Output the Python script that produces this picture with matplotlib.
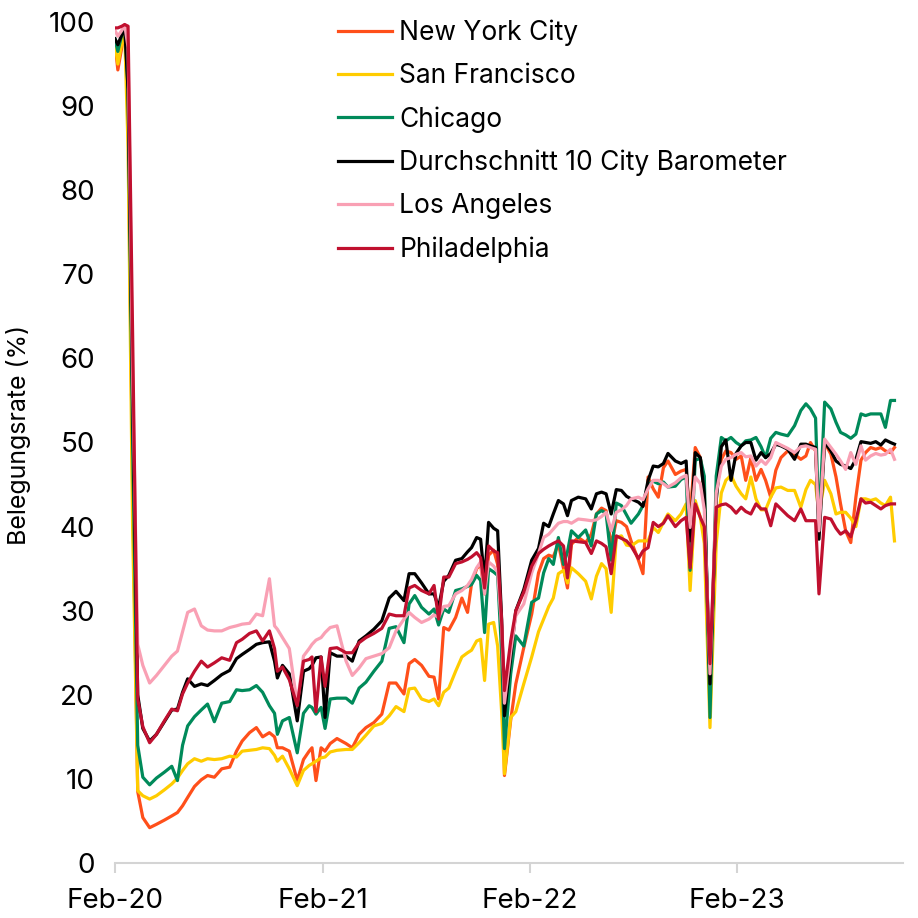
import pandas as pd
import matplotlib.pyplot as plt
import matplotlib.dates as mdates

dates = [
    "2020-02-01", "2020-02-06", "2020-02-13", "2020-02-18", "2020-02-24", "2020-03-03",
    "2020-03-12", "2020-03-21", "2020-04-02", "2020-04-14", "2020-04-28", "2020-05-11",
    "2020-05-21", "2020-05-30", "2020-06-08", "2020-06-20", "2020-07-02", "2020-07-13",
    "2020-07-25", "2020-08-07", "2020-08-21", "2020-09-02", "2020-09-12", "2020-09-25",
    "2020-10-07", "2020-10-18", "2020-10-30", "2020-11-08", "2020-11-13", "2020-11-22",
    "2020-12-04", "2020-12-18", "2020-12-29", "2021-01-08", "2021-01-13", "2021-01-20",
    "2021-01-29", "2021-02-05", "2021-02-14", "2021-02-26", "2021-03-14", "2021-03-25",
    "2021-04-06", "2021-04-18", "2021-05-02", "2021-05-16", "2021-05-29", "2021-06-10",
    "2021-06-24", "2021-07-03", "2021-07-13", "2021-07-25", "2021-08-07", "2021-08-16",
    "2021-08-24", "2021-09-02", "2021-09-11", "2021-09-23", "2021-10-04", "2021-10-14",
    "2021-10-21", "2021-10-30", "2021-11-06", "2021-11-13", "2021-11-20", "2021-11-29",
    "2021-12-06", "2021-12-13", "2021-12-18", "2021-12-29", "2022-01-07", "2022-01-21",
    "2022-02-04", "2022-02-16", "2022-02-25", "2022-03-06", "2022-03-14", "2022-03-23",
    "2022-04-01", "2022-04-08", "2022-04-15", "2022-04-27", "2022-05-10", "2022-05-20",
    "2022-05-29", "2022-06-07", "2022-06-15", "2022-06-24", "2022-07-03", "2022-07-12",
    "2022-07-21", "2022-07-29", "2022-08-11", "2022-08-19", "2022-08-28", "2022-09-06",
    "2022-09-15", "2022-09-24", "2022-10-02", "2022-10-15", "2022-10-25", "2022-11-03",
    "2022-11-10", "2022-11-19", "2022-11-28", "2022-12-05", "2022-12-15", "2022-12-26",
    "2023-01-04", "2023-01-12", "2023-01-21", "2023-01-30", "2023-02-08", "2023-02-16",
    "2023-02-25", "2023-03-06", "2023-03-15", "2023-03-23", "2023-04-01", "2023-04-10",
    "2023-04-19", "2023-05-01", "2023-05-13", "2023-05-24", "2023-06-02", "2023-06-10",
    "2023-06-19", "2023-06-25", "2023-07-05", "2023-07-16", "2023-07-25", "2023-08-02",
    "2023-08-11", "2023-08-20", "2023-08-29", "2023-09-07", "2023-09-15", "2023-09-24",
    "2023-10-03", "2023-10-12", "2023-10-20", "2023-10-29", "2023-11-05",
]

new_york = [
    97.5, 94.3, 97.0, 99.5, 90.0, 45.0, 8.5, 5.4, 4.2, 4.6, 5.1, 5.6,
    6.0, 6.8, 7.8, 9.1, 9.9, 10.4, 10.2, 11.2, 11.4, 13.3, 14.5, 15.5,
    16.1, 15.0, 15.5, 15.0, 13.7, 13.7, 13.3, 9.8, 12.3, 13.3, 13.7, 9.8,
    13.7, 13.3, 14.2, 14.8, 14.2, 13.7, 15.3, 16.1, 16.7, 17.7, 21.4, 21.4,
    20.1, 23.7, 24.2, 23.5, 22.2, 22.1, 19.5, 28.0, 27.7, 29.2, 31.5, 29.8,
    33.2, 35.0, 35.5, 32.0, 36.6, 37.2, 35.5, 28.0, 10.4, 17.0, 21.3, 25.6,
    29.6, 34.5, 36.2, 36.6, 36.4, 38.0, 35.0, 32.7, 37.9, 38.7, 38.1, 39.1,
    41.5, 42.2, 41.9, 37.7, 40.7, 40.5, 40.0, 38.3, 36.0, 34.4, 45.9, 44.5,
    43.5, 47.0, 47.8, 46.2, 46.6, 46.8, 41.0, 49.4, 48.2, 44.0, 19.0, 44.0,
    48.0, 49.0, 48.8, 48.0, 48.4, 45.5, 48.2, 45.5, 46.8, 45.5, 43.5, 46.7,
    48.2, 49.0, 48.6, 48.0, 48.4, 50.0, 49.0, 40.7, 50.0, 48.6, 45.9, 42.7,
    39.5, 38.1, 43.5, 47.9, 48.8, 49.4, 49.2, 49.4, 49.0, 48.8, 49.4,
]

san_francisco = [
    97.5, 95.0, 97.5, 99.0, 85.0, 40.0, 8.6, 8.0, 7.6, 8.0, 8.7, 9.4,
    10.1, 11.0, 11.8, 12.4, 12.1, 12.4, 12.3, 12.4, 12.7, 12.6, 13.3, 13.4,
    13.5, 13.7, 13.6, 12.8, 12.1, 12.7, 11.2, 9.2, 11.0, 11.6, 11.8, 12.1,
    12.5, 12.6, 13.2, 13.4, 13.5, 13.5, 14.3, 15.2, 16.3, 16.6, 17.5, 18.6,
    18.0, 20.7, 20.8, 19.5, 19.2, 19.5, 18.7, 20.3, 20.8, 22.8, 24.5, 25.0,
    25.3, 26.4, 26.6, 21.7, 28.4, 28.6, 25.8, 18.0, 10.6, 17.3, 18.0, 21.3,
    24.5, 27.5, 29.0, 30.5, 31.5, 34.4, 34.8, 33.3, 35.1, 34.4, 33.5, 31.4,
    34.1, 35.6, 35.0, 29.8, 38.7, 38.9, 37.8, 37.7, 38.3, 38.3, 38.3, 39.9,
    39.3, 40.5, 41.5, 40.7, 41.5, 42.7, 32.4, 43.1, 41.1, 38.0, 16.1, 38.0,
    44.0, 45.5, 46.1, 44.8, 43.9, 43.3, 45.9, 43.3, 42.0, 42.0, 43.5, 44.6,
    44.7, 44.3, 44.3, 42.3, 44.4, 45.5, 45.0, 41.5, 45.5, 43.9, 41.5, 41.7,
    41.7, 41.0, 40.0, 43.3, 43.3, 43.1, 43.3, 42.8, 42.5, 43.5, 38.3,
]

chicago = [
    98.0, 96.5, 98.5, 99.6, 92.0, 50.0, 14.0, 10.2, 9.3, 10.1, 10.8, 11.5,
    9.8, 14.0, 16.3, 17.4, 18.2, 18.9, 16.8, 19.0, 19.2, 20.6, 20.5, 20.6,
    21.1, 20.3, 18.7, 17.8, 15.3, 16.9, 17.3, 13.1, 17.8, 18.7, 18.5, 17.7,
    18.5, 16.0, 19.5, 19.6, 19.6, 19.0, 20.8, 21.5, 22.8, 24.0, 27.9, 28.1,
    26.2, 30.8, 31.8, 30.4, 29.6, 30.2, 28.3, 30.2, 29.8, 32.4, 32.6, 32.9,
    33.1, 34.2, 33.6, 27.4, 35.0, 34.6, 34.2, 25.0, 13.6, 22.5, 27.0, 25.8,
    31.0, 31.5, 34.5, 36.2, 35.5, 38.7, 35.5, 37.0, 39.5, 38.7, 39.6, 37.7,
    41.5, 41.9, 41.6, 36.0, 42.8, 42.5, 41.4, 40.4, 41.5, 42.5, 45.0, 45.4,
    45.1, 45.3, 44.7, 44.8, 45.6, 45.9, 34.8, 47.9, 48.1, 46.0, 17.3, 46.0,
    50.6, 50.2, 50.6, 50.0, 49.6, 50.2, 50.3, 50.6, 49.5, 48.2, 50.5, 51.2,
    51.0, 50.8, 52.0, 53.8, 54.6, 54.0, 52.9, 40.0, 54.8, 54.0, 52.4, 51.2,
    50.9, 50.5, 51.0, 53.4, 53.2, 53.4, 53.4, 53.4, 51.8, 55.0, 55.0,
]

barometer_avg = [
    98.0, 97.3, 98.5, 99.5, 92.0, 55.0, 20.0, 16.0, 14.5, 15.3, 16.8, 18.2,
    18.3, 20.3, 21.9, 21.0, 21.3, 21.1, 21.7, 22.4, 22.9, 24.3, 24.8, 25.4,
    26.0, 26.2, 26.3, 24.0, 22.0, 23.5, 22.5, 16.9, 22.8, 23.1, 23.5, 24.4,
    24.5, 17.3, 25.0, 24.6, 24.6, 24.0, 26.4, 27.0, 27.8, 28.8, 31.5, 32.3,
    31.2, 34.4, 34.4, 33.3, 32.0, 32.0, 30.4, 33.5, 34.2, 36.0, 36.2, 37.0,
    37.5, 38.7, 38.5, 33.6, 40.5, 39.8, 39.5, 29.0, 17.5, 24.5, 30.0, 32.5,
    36.0, 37.4, 40.4, 40.0, 41.5, 43.1, 42.7, 41.3, 43.1, 43.5, 43.3, 42.1,
    43.9, 44.1, 43.9, 41.5, 44.4, 44.3, 43.6, 43.3, 42.9, 42.4, 45.5, 47.2,
    47.1, 47.5, 48.7, 47.8, 47.5, 47.8, 38.3, 48.8, 48.2, 43.9, 21.3, 43.1,
    49.5, 50.3, 45.5, 48.7, 49.6, 50.0, 50.0, 47.9, 48.8, 48.2, 48.7, 49.8,
    49.6, 49.2, 48.0, 49.8, 49.8, 49.6, 49.4, 38.5, 50.0, 49.0, 47.8, 47.4,
    47.2, 46.9, 48.0, 50.1, 50.0, 49.9, 50.1, 49.7, 50.3, 50.0, 49.8,
]

los_angeles = [
    99.0, 98.3, 99.0, 99.7, 97.0, 58.0, 26.0, 23.5, 21.4, 22.3, 23.5, 24.6,
    25.2, 27.5, 29.8, 30.2, 28.2, 27.7, 27.6, 27.6, 28.0, 28.2, 28.4, 28.5,
    29.6, 29.4, 33.8, 28.2, 27.8, 26.8, 25.5, 18.9, 24.6, 25.5, 26.0, 26.5,
    26.8, 27.4, 28.0, 28.2, 24.0, 22.3, 23.2, 24.3, 24.6, 24.9, 25.6, 27.6,
    29.0, 29.8, 29.2, 28.6, 29.0, 29.5, 29.2, 30.5, 30.6, 32.0, 32.4, 33.0,
    33.7, 35.1, 35.8, 32.0, 35.8, 35.3, 34.6, 28.0, 19.0, 25.2, 29.4, 30.8,
    34.5, 36.8, 38.7, 39.1, 39.7, 40.4, 40.6, 40.6, 40.4, 40.9, 40.8, 40.7,
    40.8, 41.2, 41.7, 39.5, 41.7, 42.0, 42.5, 43.3, 43.5, 43.2, 44.5, 45.5,
    45.5, 45.1, 44.7, 45.2, 45.8, 46.1, 39.9, 45.9, 45.1, 42.0, 22.5, 44.0,
    47.2, 48.0, 48.2, 48.6, 48.8, 48.3, 48.4, 47.2, 47.9, 47.4, 48.2, 50.0,
    49.7, 49.3, 48.8, 49.5, 49.6, 49.4, 49.2, 39.5, 50.4, 49.4, 48.6, 47.8,
    46.8, 48.8, 47.4, 49.6, 47.9, 48.4, 48.7, 48.5, 48.6, 49.2, 48.0,
]

philadelphia = [
    99.3, 99.3, 99.5, 99.7, 99.5, 63.0, 19.5, 16.2, 14.3, 15.3, 16.9, 18.3,
    18.1, 20.1, 21.4, 22.8, 24.0, 23.3, 23.8, 24.4, 24.1, 26.2, 26.6, 27.3,
    27.6, 26.4, 27.6, 25.5, 22.8, 23.3, 21.8, 18.7, 24.0, 24.2, 24.5, 18.0,
    24.5, 21.0, 25.5, 25.6, 25.0, 25.0, 26.2, 26.8, 27.3, 27.9, 29.6, 29.4,
    29.4, 32.7, 33.0, 32.4, 32.0, 33.0, 29.0, 34.0, 34.0, 35.6, 35.8, 36.1,
    36.4, 36.9, 36.3, 32.7, 37.7, 37.1, 36.9, 28.8, 20.5, 26.4, 30.0, 32.2,
    35.3, 36.8, 37.3, 37.7, 38.0, 38.3, 37.7, 33.9, 38.3, 38.2, 38.1, 36.8,
    38.3, 38.0, 37.6, 34.4, 38.9, 38.6, 38.3, 37.7, 36.2, 37.1, 37.5, 40.5,
    40.0, 40.4, 41.3, 40.0, 40.7, 41.1, 35.1, 42.7, 41.1, 40.0, 23.7, 42.3,
    42.6, 42.7, 42.3, 41.6, 42.3, 41.8, 41.5, 42.7, 42.1, 42.1, 40.1, 42.7,
    42.1, 41.3, 40.7, 42.1, 40.7, 40.7, 40.7, 32.0, 41.1, 40.9, 39.8, 39.1,
    39.5, 38.8, 40.7, 43.3, 42.8, 42.9, 42.5, 42.1, 42.5, 42.7, 42.7,
]

series = [
    ("New York City", new_york, "#ff4f1a"),
    ("San Francisco", san_francisco, "#ffcc00"),
    ("Chicago", chicago, "#008a5a"),
    ("Durchschnitt 10 City Barometer", barometer_avg, "#000000"),
    ("Los Angeles", los_angeles, "#f9a0b4"),
    ("Philadelphia", philadelphia, "#c0102f"),
]

tick_dates = ["2020-02-01", "2021-02-01", "2022-02-01", "2023-02-01"]

plt.rcParams['font.family'] = ['Inter', 'DejaVu Sans']

x = pd.to_datetime(dates)

fig = plt.figure(figsize=(9.18, 9.18), dpi=100)
ax = fig.add_axes([115/918, 55/918, 788/918, 841/918])

for name, values, color in series:
    ax.plot(x, values, color=color, linewidth=2.3, label=name, solid_joinstyle='round')

# axes styling
ax.set_ylim(0, 100)
ax.set_yticks(range(0, 101, 10))
ax.set_xlim(pd.Timestamp("2020-02-01"), pd.Timestamp("2023-11-20"))
ax.set_xticks(pd.to_datetime(tick_dates))
ax.xaxis.set_major_formatter(mdates.DateFormatter("%b-%y"))

for side in ["left", "right", "top"]:
    ax.spines[side].set_visible(False)
ax.spines["bottom"].set_color("#d4d4d4")
ax.spines["bottom"].set_linewidth(1.5)

ax.tick_params(axis="y", length=0, pad=14.5, labelsize=20)
ax.tick_params(axis="x", length=7, width=1.5, color="#d4d4d4", pad=11, labelsize=20)

ax.set_ylabel("Belegungsrate (%)", fontsize=18)
ax.yaxis.set_label_coords(-(115 - 31) / 788, (863 - 435) / 841)

ax.legend(loc="upper left", bbox_to_anchor=(0.253, 1.031), frameon=False,
          fontsize=19, handlelength=2.05, handletextpad=0.27, labelspacing=0.645)

plt.savefig("out.png", dpi=100)
